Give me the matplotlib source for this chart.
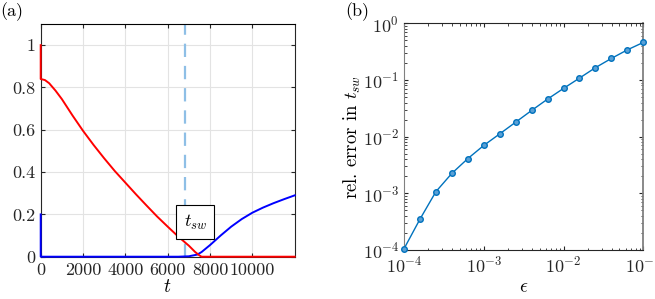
import numpy as np
import matplotlib
matplotlib.use("Agg")
import matplotlib.pyplot as plt

plt.rcParams['font.family'] = ['cmr10', 'DejaVu Serif']
plt.rcParams['mathtext.fontset'] = 'cm'
plt.rcParams['axes.formatter.use_mathtext'] = True
plt.rcParams['font.size'] = 12

# Panel (a) data
t_red = [0, 0, 200, 400, 700, 1000, 1500, 2000, 2500, 3000, 3500, 4000, 4500, 5000,
         5500, 6000, 6500, 7000, 7300, 7500, 7600, 12000]
v_red = [1.0, 0.84, 0.835, 0.82, 0.785, 0.745, 0.668, 0.595, 0.528, 0.465, 0.405, 0.35,
         0.295, 0.242, 0.19, 0.142, 0.095, 0.052, 0.022, 0.006, 0.0, 0.0]
t_blue = [0, 0, 1000, 3000, 5000, 6500, 7000, 7400, 7600, 8000, 8500, 9000, 9500, 10000,
          10500, 11000, 11500, 12000]
v_blue = [0.2, 0.0, 0.0, 0.0, 0.0, 0.0, 0.002, 0.01, 0.022, 0.055, 0.1, 0.142, 0.178, 0.208,
          0.232, 0.253, 0.272, 0.29]
t_sw = 6840
xticks_a = [0, 2000, 4000, 6000, 8000, 10000]
yticks_a = [0, 0.2, 0.4, 0.6, 0.8, 1]

# Panel (b) data
eps = [1e-4, 1.585e-4, 2.512e-4, 3.981e-4, 6.31e-4, 1e-3, 1.585e-3, 2.512e-3,
       3.981e-3, 6.31e-3, 1e-2, 1.585e-2, 2.512e-2, 3.981e-2, 6.31e-2, 1e-1]
rel_err = [1.05e-4, 3.5e-4, 1.07e-3, 2.25e-3, 4.1e-3, 7.0e-3, 1.12e-2, 1.8e-2,
           2.9e-2, 4.6e-2, 7.1e-2, 0.108, 0.165, 0.24, 0.34, 0.46]

W, H = 655, 299
fig = plt.figure(figsize=(W/100, H/100), dpi=100)

ax1 = fig.add_axes([40.7/W, 1-256.7/H, 254/W, 232.7/H])
ax1.plot(t_red, v_red, color='#ff0000', lw=1.4, zorder=4, clip_on=False)
ax1.plot(t_blue, v_blue, color='#0000ff', lw=1.4, zorder=3, clip_on=False)
ax1.axvline(t_sw, color='#8ebfe6', lw=1.6, ls=(0, (6, 4)), zorder=2)
ax1.text(7300, 0.163, r'$t_{sw}$', ha='center', va='center', fontsize=13,
         bbox=dict(boxstyle='square,pad=0.4', fc='white', ec='black', lw=0.8), zorder=5)
ax1.set_xlim(0, 12000)
ax1.set_ylim(0, 1.1)
ax1.set_xticks(xticks_a)
ax1.set_xticklabels([str(x) for x in xticks_a])
ax1.set_yticks(yticks_a)
ax1.set_yticklabels(['0', '0.2', '0.4', '0.6', '0.8', '1'])
ax1.grid(True, color='#e3e3e3', lw=0.8)
ax1.set_axisbelow(True)
ax1.tick_params(direction='in', top=True, right=True, length=3, colors='#262626',
                labelsize=13, pad=4)
ax1.set_xlabel(r'$t$', fontsize=14, labelpad=0)
for s in ax1.spines.values():
    s.set_color('#262626')
    s.set_linewidth(0.8)
ax1.spines['top'].set_color('black')

ax2 = fig.add_axes([404/W, 1-250/H, 239.3/W, 226.7/H])
ax2.plot(eps, rel_err, color='#0072bd', lw=1.0, marker='o', ms=4, mfc='#5aa0d6',
         mec='#0072bd', mew=1.0, clip_on=False, zorder=4)
ax2.set_xscale('log')
ax2.set_yscale('log')
ax2.set_xlim(1e-4, 1e-1)
ax2.set_ylim(1e-4, 1)
ax2.tick_params(which='both', direction='in', top=True, right=True, colors='#262626',
                labelsize=13)
ax2.tick_params(which='major', length=3)
ax2.tick_params(which='minor', length=1.8)
ax2.set_xlabel(r'$\epsilon$', fontsize=14, labelpad=2)
ax2.set_ylabel(r'rel. error in $t_{sw}$', fontsize=13.5, labelpad=0)
for s in ax2.spines.values():
    s.set_color('#262626')
    s.set_linewidth(0.8)
ax2.spines['left'].set_color('#808080')
ax2.spines['right'].set_color('#808080')
ax2.spines['right'].set_linewidth(1.3)

fig.text(0/W, 1-12/H, '(a)', fontsize=13, va='center', ha='left')
fig.text(345/W, 1-12/H, '(b)', fontsize=13, va='center', ha='left')

fig.savefig('out.png', dpi=100)
